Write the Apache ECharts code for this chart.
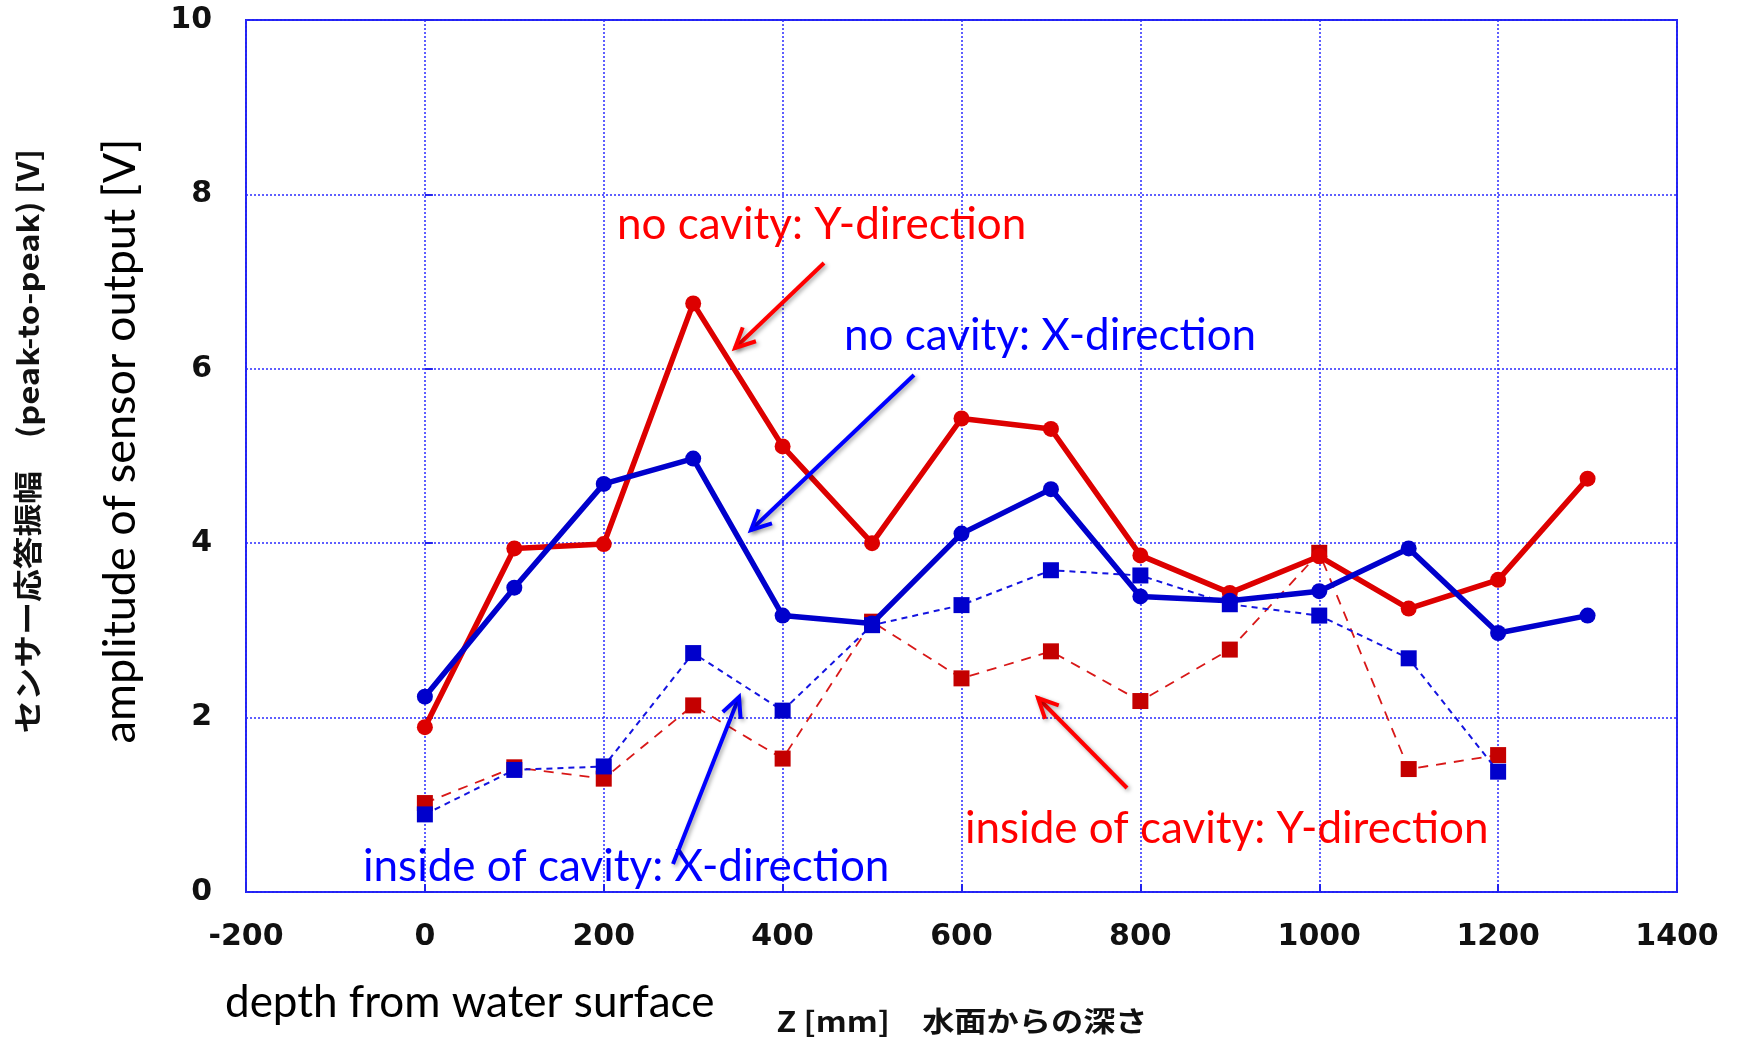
<!DOCTYPE html>
<html><head><meta charset="utf-8">
<script src="https://cdn.jsdelivr.net/npm/echarts@6/dist/echarts.min.js"></script>
<style>html,body{margin:0;padding:0;background:#fff}#c{width:1741px;height:1041px}</style>
</head><body><div id="c"></div>
<script>
const depths = [0,100,200,300,400,500,600,700,800,900,1000,1100,1200,1300];
const depthsInside = [0,100,200,300,400,500,600,700,800,900,1000,1100,1200];
const noCavityY = [1.89,3.94,3.99,6.75,5.11,4.00,5.43,5.31,3.86,3.43,3.85,3.25,3.58,4.74];
const noCavityX = [2.24,3.49,4.68,4.97,3.17,3.08,4.11,4.62,3.39,3.34,3.45,3.94,2.97,3.17];
const insideX = [0.89,1.40,1.44,2.74,2.08,3.06,3.29,3.69,3.63,3.30,3.17,2.68,1.38];
const insideY = [1.02,1.43,1.30,2.14,1.53,3.10,2.45,2.76,2.19,2.78,3.89,1.41,1.57];
const xTicks = {min:-200, max:1400, step:200};
const yTicks = {min:0, max:10, step:2};

const pairs = (xs, ys) => xs.map((x,i)=>[x, ys[i]]);
const chart = echarts.init(document.getElementById('c'), null, {renderer:'canvas'});
const gridBlue = '#2a2aff';
const tickFont = {fontFamily:'DejaVu Sans', fontWeight:'bold', fontSize:30, color:'#111'};

function arrow(x1,y1,x2,y2,color){
  const a = Math.atan2(y2-y1,x2-x1), L=22, w=0.45;
  const p1=[x2-L*Math.cos(a-w), y2-L*Math.sin(a-w)];
  const p2=[x2-L*Math.cos(a+w), y2-L*Math.sin(a+w)];
  const sh = {shadowBlur:4, shadowColor:'rgba(0,0,0,0.35)', shadowOffsetX:2, shadowOffsetY:2};
  return [
    {type:'line', shape:{x1,y1,x2,y2}, style:Object.assign({stroke:color, lineWidth:4}, sh), z:100},
    {type:'polyline', shape:{points:[p1,[x2,y2],p2]}, style:Object.assign({stroke:color, lineWidth:4, fill:null}, sh), z:100}
  ];
}
const annFont = 'Lato';
const graphics = [
  {type:'text', left:617, top:203, style:{text:'no cavity: Y-direction', fill:'#ff0000', font:'44px '+annFont}, z:100},
  {type:'text', left:844, top:314, style:{text:'no cavity: X-direction', fill:'#0000ff', font:'44px '+annFont}, z:100},
  {type:'text', left:363, top:845, style:{text:'inside of cavity: X-direction', fill:'#0000ff', font:'44px '+annFont}, z:100},
  {type:'text', left:965, top:807, style:{text:'inside of cavity: Y-direction', fill:'#ff0000', font:'44px '+annFont}, z:100},
  {type:'text', left:225, top:981, style:{text:'depth from water surface', fill:'#000', font:'44px '+annFont}},
  {type:'text', x:962, y:1021, scaleX:1.15, style:{text:'Z [mm]\u3000水面からの深さ', fill:'#111', font:'bold 28px "Noto Sans CJK JP"', align:'center', verticalAlign:'middle'}},
  {type:'text', x:120, y:441, rotation:Math.PI/2, style:{text:'amplitude of sensor output [V]', fill:'#000', font:'45px '+annFont, align:'center', verticalAlign:'middle'}},
  {type:'text', x:28, y:441, rotation:Math.PI/2, scaleX:1.13, style:{text:'センサー応答振幅\u3000(peak-to-peak) [V]', fill:'#111', font:'bold 29px "Noto Sans CJK JP"', align:'center', verticalAlign:'middle'}}
].concat(
  arrow(824,263,735,348,'#ff0000'),
  arrow(914,375,751,530,'#0000ff'),
  arrow(673,864,739,697,'#0000ff'),
  arrow(1127,788,1038,698,'#ff0000')
);

chart.setOption({
  animation:false,
  backgroundColor:'#fff',
  grid:{left:246, right:64, top:20, bottom:149, show:true, borderColor:'#2222ee', borderWidth:2, backgroundColor:'transparent'},
  xAxis:{type:'value', min:xTicks.min, max:xTicks.max, interval:xTicks.step,
    axisLine:{show:false}, axisTick:{show:true, inside:true, length:8, lineStyle:{color:'#2222ee', width:2}},
    axisLabel:Object.assign({margin:30, formatter:v=>String(v)}, tickFont),
    splitLine:{show:true, lineStyle:{color:gridBlue, type:[2,2], width:1.5}}},
  yAxis:{type:'value', min:yTicks.min, max:yTicks.max, interval:yTicks.step,
    axisLine:{show:false}, axisTick:{show:true, inside:true, length:8, lineStyle:{color:'#2222ee', width:2}},
    axisLabel:Object.assign({margin:34, formatter:v=>String(v)}, tickFont),
    splitLine:{show:true, lineStyle:{color:gridBlue, type:[2,2], width:1.5}}},
  series:[
    {type:'line', name:'inside Y', data:pairs(depthsInside, insideY), symbol:'rect', symbolSize:16,
      itemStyle:{color:'#c40000'}, lineStyle:{color:'#d81818', width:1.8, type:[10,8]}, z:2},
    {type:'line', name:'inside X', data:pairs(depthsInside, insideX), symbol:'rect', symbolSize:16,
      itemStyle:{color:'#0000cc'}, lineStyle:{color:'#1414e0', width:2, type:[6,5]}, z:3},
    {type:'line', name:'no cavity Y', data:pairs(depths, noCavityY), symbol:'circle', symbolSize:16,
      itemStyle:{color:'#dd0000'}, lineStyle:{color:'#dd0000', width:5.5}, z:4},
    {type:'line', name:'no cavity X', data:pairs(depths, noCavityX), symbol:'circle', symbolSize:16,
      itemStyle:{color:'#0000cc'}, lineStyle:{color:'#0000cc', width:5.5}, z:5}
  ],
  graphic:graphics
});
</script></body></html>
